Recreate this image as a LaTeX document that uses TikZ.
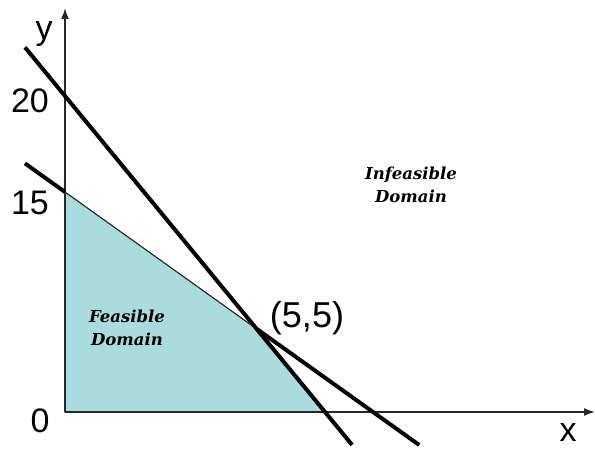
\documentclass[tikz,border=0pt]{standalone}
\usepackage{fontspec}
\newfontfamily\arialfont{Liberation Sans}
\newfontfamily\domfont{DejaVu Serif}
\usetikzlibrary{arrows.meta,calc}
\definecolor{feas}{RGB}{170,220,222}
\definecolor{axisgray}{RGB}{40,40,40}
\tikzset{
  axisline/.style={draw=axisgray,line width=1.6pt,-{Latex[length=11pt,width=8pt]}},
  conline/.style={draw=black,line width=4pt},
  axlabel/.style={font=\arialfont\fontsize{34}{34}\selectfont,inner sep=0pt},
  domlabel/.style={font=\domfont\bfseries\itshape\fontsize{16.5}{23}\selectfont,align=center,inner sep=0pt}
}
\begin{document}
\begin{tikzpicture}[x=1pt,y=-1pt]
\useasboundingbox (0,0) rectangle (595,449);
\coordinate (O) at (65,412);
\coordinate (A20) at (65,96);
\coordinate (A15) at (65,192);
\coordinate (Bs) at (325,412);
\coordinate (Bw) at (373,412);
\coordinate (P) at (intersection of A20--Bs and A15--Bw);
\coordinate (S1) at ($(A20)!-0.154!(Bs)$);
\coordinate (S2) at ($(A20)!1.104!(Bs)$);
\coordinate (W1) at ($(A15)!-0.13!(Bw)$);
\coordinate (W2) at ($(A15)!1.15!(Bw)$);
% feasible region
\filldraw[fill=feas,draw=axisgray,line width=1.2pt] (O) -- (A15) -- (P) -- (Bs) -- cycle;
% axes
\coordinate (Ytop) at (65,8);
\coordinate (Xend) at (595,412);
\draw[axisline] (O) -- (Ytop);
\draw[axisline] (O) -- (Xend);
% constraint lines
\draw[conline] (S1) -- (S2);
\draw[conline] (W1) -- (A15);
\draw[conline] (P) -- (W2);
% labels
\node[axlabel] (ylab) at (44,34) {y};
\node[axlabel] (l20) at (30,101) {20};
\node[axlabel] (l15) at (30,203) {15};
\node[axlabel] (l0) at (40,421) {0};
\node[axlabel] (xlab) at (568,433) {x};
\node[axlabel,font=\arialfont\fontsize{36}{36}\selectfont] (pt) at (307,318) {(5,5)};
\node[domlabel] (feasible) at (127,328) {Feasible\\Domain};
\node[domlabel] (infeasible) at (411,185) {Infeasible\\Domain};
\end{tikzpicture}
\end{document}
